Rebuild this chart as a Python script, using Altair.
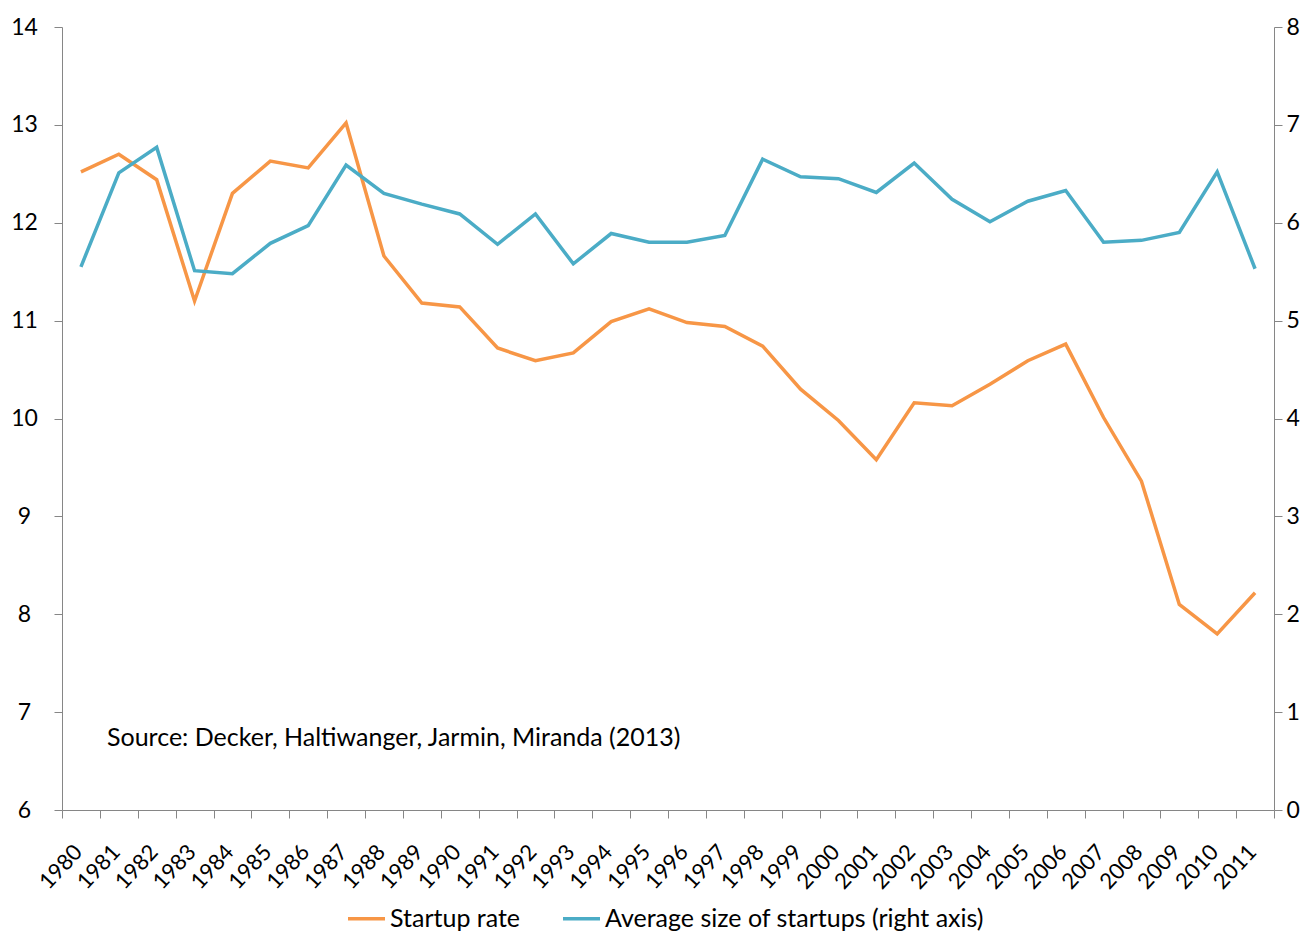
import altair as alt
import pandas as pd

years = [str(y) for y in range(1980, 2012)]

startup_rate = [12.52, 12.70, 12.44, 11.20, 12.30, 12.63, 12.56, 13.02,
                11.66, 11.18, 11.14, 10.72, 10.59, 10.67, 10.99, 11.12,
                10.98, 10.94, 10.74, 10.30, 9.98, 9.58, 10.16, 10.13,
                10.35, 10.59, 10.76, 10.01, 9.36, 8.10, 7.80, 8.22]

avg_size = [5.55, 6.51, 6.77, 5.51, 5.48, 5.79, 5.97, 6.59,
            6.30, 6.19, 6.09, 5.78, 6.09, 5.58, 5.89, 5.80,
            5.80, 5.87, 6.65, 6.47, 6.45, 6.31, 6.61, 6.24,
            6.01, 6.22, 6.33, 5.80, 5.82, 5.90, 6.52, 5.53]

series_names = ["Startup rate", "Average size of startups (right axis)"]
series_colors = ["#F79646", "#4BACC6"]

source_note = ["Source: Decker, Haltiwanger, Jarmin, Miranda (2013)"]

FONT = "Lato"
AXIS_GREY = "#868686"

rows = []
for y, a, b in zip(years, startup_rate, avg_size):
    rows.append({"year": y, "series": series_names[0], "value": a})
    rows.append({"year": y, "series": series_names[1], "value": b})
df = pd.DataFrame(rows)

x_enc = alt.X(
    "year:O",
    sort=years,
    scale=alt.Scale(type="band", paddingInner=0, paddingOuter=0),
    bandPosition=0.5,
    axis=alt.Axis(
        title=None, labelAngle=-47, labelAlign="right", labelBaseline="middle",
        labelFontSize=22, labelColor="black",
        labelFont=FONT, tickBand="extent", tickSize=8, tickColor=AXIS_GREY,
        domainColor=AXIS_GREY, labelPadding=30, labelOffset=-3, grid=False,
        labelOverlap=False,
    ),
)

color_enc = alt.Color(
    "series:N",
    scale=alt.Scale(domain=series_names, range=series_colors),
    legend=alt.Legend(
        orient="none", legendX=284, legendY=871, direction="horizontal",
        title=None, symbolType="stroke", symbolStrokeWidth=3.5, symbolSize=1369,
        labelFontSize=25, labelFont=FONT, labelColor="black", labelOffset=3,
        columnPadding=35, padding=0, labelLimit=600,
    ),
)

left = alt.Chart(df).transform_filter(
    alt.datum.series == series_names[0]
).mark_line(strokeWidth=3.5).encode(
    x=x_enc,
    y=alt.Y(
        "value:Q",
        scale=alt.Scale(domain=[6, 14], nice=False, zero=False),
        axis=alt.Axis(
            title=None, values=list(range(6, 15)), grid=False, tickSize=8,
            tickColor=AXIS_GREY, domainColor=AXIS_GREY, labelFontSize=23,
            labelFont=FONT, labelColor="black", labelPadding=30,
            labelAlign="center",
        ),
    ),
    color=color_enc,
)

right = alt.Chart(df).transform_filter(
    alt.datum.series == series_names[1]
).mark_line(strokeWidth=3.5).encode(
    x=x_enc,
    y=alt.Y(
        "value:Q",
        scale=alt.Scale(domain=[0, 8], nice=False),
        axis=alt.Axis(
            title=None, orient="right", values=list(range(0, 9)), grid=False,
            tickSize=8, tickColor=AXIS_GREY, domainColor=AXIS_GREY,
            labelFontSize=23, labelFont=FONT, labelColor="black",
            labelPadding=4,
        ),
    ),
    color=color_enc,
)

note = alt.Chart(pd.DataFrame({"t": source_note})).mark_text(
    align="left", baseline="middle", fontSize=25, font=FONT, color="black"
).encode(
    x=alt.value(45), y=alt.value(711), text="t:N"
)

chart = alt.layer(left, right, note).resolve_scale(
    y="independent"
).properties(
    width=1212,
    height=783,
    padding={"left": 54, "top": 19, "right": 27, "bottom": 130},
    autosize=alt.AutoSizeParams(type="none"),
).configure_view(stroke=None)

chart.save("out.html", embed_options={"renderer": "svg", "actions": False})
